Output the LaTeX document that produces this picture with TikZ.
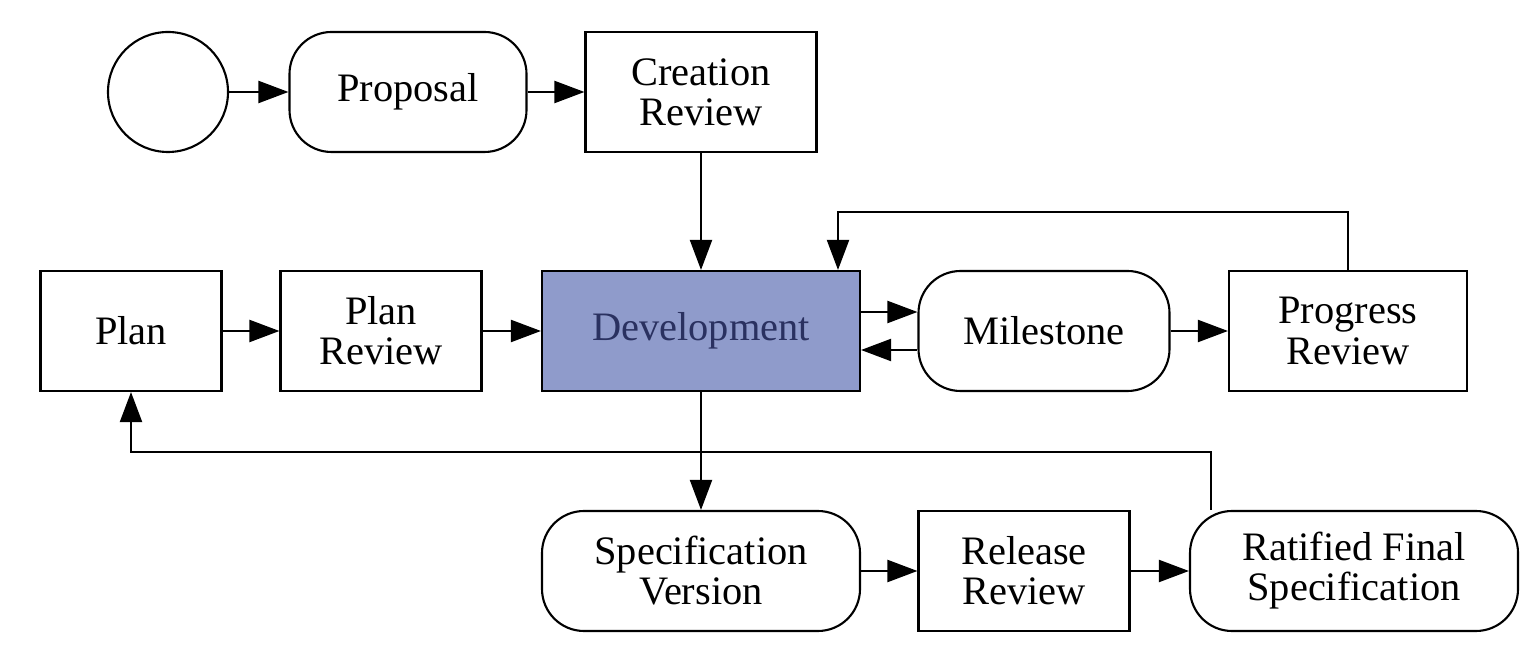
\documentclass[tikz,border=0pt]{standalone}
\usepackage{fontspec}
\setmainfont{Liberation Serif}
\usetikzlibrary{arrows.meta}
\definecolor{devblue}{HTML}{8F9BCB}
\definecolor{devtext}{HTML}{2A3160}
\begin{document}
\begin{tikzpicture}[
    font=\fontsize{11.5}{11.4}\selectfont,
    box/.style={draw,line width=0.6pt,minimum height=1.2cm,align=center,inner sep=0pt},
    round/.style={box,rounded corners=0.42cm},
    flow/.style={line width=0.6pt,-{Triangle[length=0.3cm,width=0.22cm]}}
  ]
  \useasboundingbox (0,0) rectangle (15.36,6.67);
  \node[draw,circle,line width=0.6pt,minimum size=1.2cm,inner sep=0pt] (start) at (1.68,5.75) {};
  \node[round,minimum width=2.37cm] (prop) at (4.08,5.75) {Proposal};
  \node[box,minimum width=2.31cm] (crev) at (7.01,5.75) {Creation\\Review};
  \node[box,minimum width=1.81cm] (plan) at (1.31,3.36) {Plan};
  \node[box,minimum width=2.01cm] (prev) at (3.81,3.36) {Plan\\Review};
  \node[box,fill=devblue,text=devtext,minimum width=3.18cm] (dev) at (7.01,3.36) {Development};
  \node[round,minimum width=2.51cm] (mile) at (10.44,3.36) {Milestone};
  \node[box,minimum width=2.38cm] (progrev) at (13.48,3.36) {Progress\\Review};
  \node[round,minimum width=3.18cm] (spec) at (7.01,0.96) {Specification\\Version};
  \node[box,minimum width=2.11cm] (rrev) at (10.24,0.96) {Release\\Review};
  \node[round,minimum width=3.28cm] (final) at (13.54,0.96) {Ratified Final\\Specification};
  \coordinate (devtop) at (8.38,4.55);
  \coordinate (loopbot) at (12.11,2.15);

  \draw[flow] (start) -- (prop);
  \draw[flow] (prop) -- (crev);
  \draw[flow] (crev) -- (dev);
  \draw[flow] (plan) -- (prev);
  \draw[flow] (prev) -- (dev);
  \draw[flow] (dev.east |- 0,3.55) -- (mile.west |- 0,3.55);
  \draw[flow] (mile.west |- 0,3.17) -- (dev.east |- 0,3.17);
  \draw[flow] (mile) -- (progrev);
  \draw[flow] (progrev.north) |- (devtop) -- (devtop |- dev.north);
  \draw[flow] (dev) -- (spec);
  \draw[flow] (spec) -- (rrev);
  \draw[flow] (rrev) -- (final);
  \draw[flow] (loopbot |- final.north) -- (loopbot) -| (plan.south);
\end{tikzpicture}
\end{document}
